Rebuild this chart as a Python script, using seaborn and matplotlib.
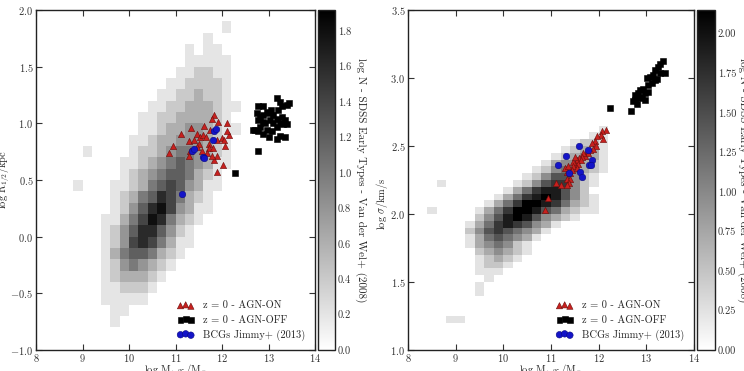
import matplotlib
matplotlib.use('Agg')
import matplotlib.pyplot as plt
from matplotlib.ticker import FormatStrFormatter
import seaborn as sns

# SDSS early types (Van der Wel+ 2008), log N per cell.
# One string per row, top row first, one digit per cell, '.' = empty cell.
size_rows = [
    "................1.",
    "..............1...",
    "............1.11..",
    "............11111.",
    "...........112211.",
    "..........1122221.",
    ".........11223221.",
    "........1122333211",
    ".......1122333321.",
    ".......11233443211",
    "......11233444321.",
    ".1....12234554321.",
    ".....112345654311.",
    ".....12345665321..",
    "1...112356764311..",
    "....12356875321...",
    "....12468974311...",
    "...11357985321....",
    "...1246886421.....",
    "...1247875311.....",
    "...135665321......",
    "...12454321.......",
    "...1233321........",
    "...112221.........",
    "...11111..........",
    "....11............",
    "....1.............",
]
size_x0, size_dx = 8.8, 0.2
size_ytop, size_dy = 1.9, 0.1
size_step = 0.2

sigma_rows = [
    "....................",
    "....................",
    "..................1.",
    ".................11.",
    "...............1221.",
    "..............12331.",
    ".............123431.",
    "............1344321.",
    "...........12455321.",
    "..........12466421..",
    ".1.......124677421..",
    "........135788642...",
    ".......13578986421..",
    "......135799875321..",
    "1....1357998653211..",
    ".....24689864321....",
    "....1357876431......",
    "....246765431.......",
    "....13565431........",
    "....1345421.........",
    ".....234321.........",
    ".....12321..........",
    ".....1221...........",
    ".....111............",
    "......1.............",
    ".....1..............",
    ".....1..............",
    "....................",
    "....................",
    "....................",
    "..11................",
    "....................",
]
sigma_x0, sigma_dx = 8.4, 0.2
sigma_ytop, sigma_dy = 2.75, 0.05
sigma_step = 0.24

# z = 0 - AGN-ON
on_mass_r = [11.83, 11.78, 11.92, 12.10, 11.61, 11.33, 11.11, 11.28, 10.95, 10.87,
             11.46, 11.53, 11.60, 11.40, 11.51, 11.66, 11.74, 11.71, 11.46, 11.56,
             11.71, 11.80, 11.89, 11.99, 12.05, 12.16, 12.10, 12.06, 11.89, 11.82,
             12.03, 11.90, 11.67, 11.31, 11.28, 11.78]
on_r12 = [1.07, 1.04, 1.01, 1.00, 0.98, 0.96, 0.91, 0.84, 0.80, 0.74,
          0.91, 0.88, 0.90, 0.85, 0.82, 0.88, 0.94, 0.82, 0.79, 0.76,
          0.78, 0.78, 0.85, 0.87, 0.85, 0.90, 0.93, 0.80, 0.71, 0.68,
          0.63, 0.57, 0.74, 0.76, 0.71, 0.71]
on_mass_s = [12.15, 12.08, 12.04, 12.10, 11.96, 11.92, 11.87, 11.94, 11.89, 11.82,
             11.75, 11.78, 11.71, 11.68, 11.64, 11.59, 11.54, 11.62, 11.50, 11.47,
             11.57, 11.47, 11.54, 11.43, 11.33, 11.29, 11.40, 11.33, 11.40, 11.38,
             11.33, 11.22, 11.10, 10.94, 10.87, 11.36, 11.50]
on_sigma = [2.62, 2.61, 2.58, 2.55, 2.57, 2.54, 2.52, 2.50, 2.48, 2.47,
            2.46, 2.45, 2.43, 2.45, 2.42, 2.41, 2.40, 2.40, 2.37, 2.38,
            2.37, 2.35, 2.34, 2.32, 2.31, 2.34, 2.30, 2.26, 2.26, 2.23,
            2.21, 2.21, 2.23, 2.12, 2.03, 2.35, 2.42]

# z = 0 - AGN-OFF
off_mass_r = [12.78, 12.89, 12.75, 12.89, 12.96, 13.05, 13.02, 13.18, 13.25, 13.28,
              13.39, 13.43, 13.21, 13.10, 13.03, 12.92, 12.82, 12.71, 12.78, 12.89,
              12.96, 13.07, 13.18, 13.25, 13.32, 13.39, 13.35, 13.28, 13.18, 13.10,
              13.00, 13.18, 13.25, 13.35, 12.89, 12.78, 12.82, 12.67, 12.77, 12.27]
off_r12 = [1.15, 1.15, 1.09, 1.07, 1.10, 1.12, 1.09, 1.22, 1.19, 1.15,
           1.16, 1.18, 1.12, 1.07, 1.03, 1.00, 0.97, 0.94, 0.93, 0.91,
           0.94, 0.93, 0.97, 1.00, 0.99, 0.99, 1.03, 1.06, 1.04, 1.00,
           0.88, 0.86, 0.89, 0.88, 1.01, 1.03, 1.06, 0.94, 0.76, 0.56]
off_mass_s = [13.36, 13.25, 13.18, 13.29, 13.39, 13.15, 13.08, 13.01, 13.22, 13.11,
              13.04, 12.94, 12.87, 12.83, 12.97, 13.04, 12.90, 12.80, 12.76, 12.87,
              12.80, 12.73, 12.67, 12.24, 12.97, 12.76, 13.29, 13.18]
off_sigma = [3.125, 3.08, 3.06, 3.04, 3.04, 3.02, 3.01, 3.00, 2.99, 2.96,
             2.95, 2.92, 2.91, 2.89, 2.89, 2.90, 2.86, 2.86, 2.84, 2.85,
             2.81, 2.83, 2.76, 2.78, 2.84, 2.875, 3.10, 2.985]

# BCGs Jimmy+ (2013)
bcg_mass_r = [11.83, 11.87, 11.81, 11.36, 11.40, 11.60, 11.62, 11.15]
bcg_r12 = [0.93, 0.95, 0.85, 0.76, 0.77, 0.70, 0.69, 0.38]
bcg_mass_s = [11.59, 11.31, 11.14, 11.38, 11.61, 11.64, 11.78, 11.87, 11.79, 11.84]
bcg_sigma = [2.50, 2.43, 2.36, 2.30, 2.31, 2.27, 2.47, 2.40, 2.36, 2.36]

legend_labels = ['z = 0 - AGN-ON', 'z = 0 - AGN-OFF', 'BCGs Jimmy+ (2013)']
cbar_label = 'log N - SDSS Early Types - Van der Wel+ (2008)'


def cells(rows, x0, dx, ytop, dy, step):
    xs, ys, ws = [], [], []
    for i, row in enumerate(rows):
        for j, ch in enumerate(row):
            if ch != '.':
                xs.append(x0 + (j + 0.5) * dx)
                ys.append(ytop - (i + 0.5) * dy)
                ws.append(int(ch) * step)
    return xs, ys, ws


sns.set_style('ticks')
plt.rcParams.update({
    'font.family': ['cmr10', 'DejaVu Serif'],
    'mathtext.fontset': 'cm',
    'axes.formatter.use_mathtext': True,
    'axes.unicode_minus': True,
    'axes.edgecolor': '#222222',
    'axes.linewidth': 1.0,
    'xtick.direction': 'in',
    'ytick.direction': 'in',
    'xtick.top': True,
    'ytick.right': True,
    'xtick.major.size': 4,
    'ytick.major.size': 4,
    'xtick.major.pad': 1.5,
    'ytick.major.pad': 2,
    'xtick.labelsize': 7.5,
    'ytick.labelsize': 7.5,
    'xtick.color': '#333333',
    'ytick.color': '#333333',
})

fig = plt.figure(figsize=(7.44, 3.71), dpi=100)
ax1 = fig.add_axes([0.0484, 0.0566, 0.375, 0.9164])
cax1 = fig.add_axes([0.4274, 0.0566, 0.0228, 0.9164])
ax2 = fig.add_axes([0.5484, 0.0566, 0.3844, 0.9164])
cax2 = fig.add_axes([0.9368, 0.0566, 0.0242, 0.9164])

panels = [
    (ax1, cax1, size_rows, size_x0, size_dx, size_ytop, size_dy, size_step, 1.92,
     on_mass_r, on_r12, off_mass_r, off_r12, bcg_mass_r, bcg_r12,
     (-1.0, 2.0), r'$\mathrm{log\ R_{1/2}/kpc}$', 0.2, '%.1f',
     (-0.086, 0.5), 2.18),
    (ax2, cax2, sigma_rows, sigma_x0, sigma_dx, sigma_ytop, sigma_dy, sigma_step, 2.15,
     on_mass_s, on_sigma, off_mass_s, off_sigma, bcg_mass_s, bcg_sigma,
     (1.0, 3.5), r'$\mathrm{log}\ \sigma/\mathrm{km/s}$', 0.25, '%.2f',
     (-0.062, 0.43), 2.2),
]

for (ax, cax, rows, x0, dx, ytop, dy, step, vmax,
     m_on, y_on, m_off, y_off, m_bcg, y_bcg, ylim, ylabel, cstep, cfmt,
     ylab_xy, clab_x) in panels:
    hx, hy, hw = cells(rows, x0, dx, ytop, dy, step)
    ylo = ytop - len(rows) * dy
    xhi = x0 + len(rows[0]) * dx
    sns.histplot(x=hx, y=hy, weights=hw, binwidth=(dx, dy),
                 binrange=((x0, xhi), (ylo, ytop)), cmap='gray_r',
                 vmin=0, vmax=vmax, cbar=True, cbar_ax=cax, ax=ax)

    sns.scatterplot(x=m_on, y=y_on, marker='^', s=20, color='#c8201e',
                    edgecolor='#6a0d0b', linewidth=0.4, label=legend_labels[0],
                    ax=ax, zorder=3)
    sns.scatterplot(x=m_off, y=y_off, marker='s', s=18, color='black',
                    edgecolor='black', linewidth=0.4, label=legend_labels[1],
                    ax=ax, zorder=3)
    sns.scatterplot(x=m_bcg, y=y_bcg, marker='o', s=22, color='#1414c8',
                    edgecolor='#0a0a80', linewidth=0.4, label=legend_labels[2],
                    ax=ax, zorder=4)

    ax.set_xlim(8, 14)
    ax.set_ylim(*ylim)
    ax.set_xticks(range(8, 15))
    ax.set_yticks([ylim[0] + 0.5 * k for k in range(int((ylim[1] - ylim[0]) / 0.5) + 1)])
    ax.set_xlabel(r'$\mathrm{log\ M_{*,25}/M_{\odot}}$', fontsize=7.5)
    ax.xaxis.set_label_coords(0.5, -0.037)
    ax.set_ylabel(ylabel, fontsize=7.5)
    ax.yaxis.set_label_coords(*ylab_xy)
    ax.legend(loc='lower right', scatterpoints=3, frameon=False, fontsize=7.5,
              handlelength=1.6, handletextpad=0.9, borderaxespad=0.5,
              labelspacing=0.45)

    nticks = int(round(vmax / cstep - 0.49)) + 1
    cax.set_yticks([cstep * k for k in range(nticks)])
    cax.yaxis.set_major_formatter(FormatStrFormatter(cfmt))
    cax.tick_params(direction='in', length=3, labelsize=7.5, right=True, left=False)
    cax.set_ylabel(cbar_label, rotation=270, fontsize=8,
                   rotation_mode='anchor', ha='center', va='bottom')
    cax.yaxis.set_label_coords(clab_x, 0.5)

fig.savefig('out.png', dpi=100)
